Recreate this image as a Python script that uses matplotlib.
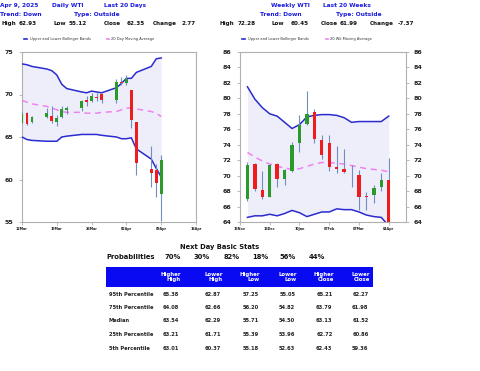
import matplotlib
matplotlib.use("Agg")
import matplotlib.pyplot as plt
import matplotlib.dates as mdates
import pandas as pd
import numpy as np

plt.rcParams['font.family'] = ['DejaVu Sans']

# ---------------- Daily data ----------------
daily_dates = ["2025-03-12", "2025-03-13", "2025-03-14", "2025-03-17", "2025-03-18", "2025-03-19",
               "2025-03-20", "2025-03-21", "2025-03-24", "2025-03-25", "2025-03-26", "2025-03-27",
               "2025-03-28", "2025-03-31", "2025-04-01", "2025-04-02", "2025-04-03", "2025-04-04",
               "2025-04-07", "2025-04-08", "2025-04-09"]
daily_open = [66.7, 67.8, 66.8, 67.3, 67.5, 66.8, 67.4, 68.2, 68.4, 69.4, 69.2, 69.65,
              70.0, 69.4, 71.5, 71.3, 70.5, 66.8, 61.2, 61.1, 58.3]
daily_high = [67.9, 68.0, 67.5, 68.4, 68.7, 67.6, 68.6, 68.7, 69.4, 69.8, 70.2, 70.2,
              70.2, 71.8, 72.1, 72.3, 70.5, 66.8, 63.9, 61.8, 62.93]
daily_low = [66.6, 66.4, 66.7, 67.2, 66.7, 66.3, 67.2, 67.7, 68.1, 68.7, 69.1, 69.2,
             69.0, 69.0, 71.1, 71.1, 66.1, 60.5, 59.1, 58.0, 55.12]
daily_close = [67.7, 66.5, 67.3, 67.8, 66.9, 67.2, 68.3, 68.4, 69.2, 69.1, 69.8, 69.6,
               69.4, 71.5, 71.3, 71.8, 67.0, 62.0, 60.8, 59.6, 62.35]
daily_upper = [73.6, 73.5, 73.3, 73.0, 72.8, 72.3, 71.2, 70.7, 70.3, 70.2, 70.4, 70.3,
               70.2, 70.8, 71.3, 71.9, 71.9, 72.6, 73.3, 74.2, 74.3]
daily_mid = [69.3, 69.1, 68.9, 68.6, 68.4, 68.2, 68.0, 67.9, 67.9, 67.8, 67.8, 67.8,
             67.9, 68.0, 68.2, 68.4, 68.4, 68.3, 68.0, 67.8, 67.4]
daily_lower = [65.0, 64.7, 64.6, 64.5, 64.5, 64.5, 65.0, 65.1, 65.3, 65.3, 65.3, 65.3,
               65.2, 65.0, 64.8, 64.8, 64.9, 63.6, 62.4, 61.3, 60.3]

# ---------------- Weekly data ----------------
weekly_dates = ["2024-11-22", "2024-11-29", "2024-12-06", "2024-12-13", "2024-12-20", "2024-12-27",
                "2025-01-03", "2025-01-10", "2025-01-17", "2025-01-24", "2025-01-31", "2025-02-07",
                "2025-02-14", "2025-02-21", "2025-02-28", "2025-03-07", "2025-03-14", "2025-03-21",
                "2025-03-28", "2025-04-04"]
weekly_open = [67.0, 71.5, 68.1, 67.3, 71.5, 69.5, 70.6, 74.2, 76.7, 78.3, 74.6, 74.2,
               71.1, 70.8, 69.95, 70.1, 67.35, 67.5, 68.5, 69.4]
weekly_high = [71.7, 71.6, 70.6, 71.5, 71.6, 70.9, 74.4, 77.9, 80.9, 78.6, 75.3, 75.3,
               73.8, 73.4, 71.4, 70.7, 67.9, 68.8, 70.3, 72.28]
weekly_low = [66.7, 68.0, 67.0, 67.2, 68.5, 68.8, 70.5, 73.0, 76.6, 74.2, 72.1, 70.6,
              70.4, 70.4, 68.5, 65.5, 65.5, 66.4, 68.0, 60.45]
weekly_close = [71.4, 68.3, 67.3, 71.4, 69.6, 70.7, 74.0, 76.6, 78.0, 74.7, 72.7, 71.1,
                70.8, 70.5, 69.9, 67.3, 67.3, 68.4, 69.4, 61.99]
weekly_upper = [81.5, 79.9, 78.8, 78.0, 77.7, 76.9, 76.1, 76.6, 77.6, 77.8, 77.9, 77.9,
                77.8, 77.5, 76.9, 77.0, 77.0, 77.0, 77.0, 77.7]
weekly_mid = [73.0, 72.4, 71.9, 71.5, 71.2, 71.0, 70.8, 70.9, 71.2, 71.5, 71.7, 71.7,
              71.6, 71.5, 71.3, 71.1, 70.9, 70.8, 70.7, 70.5]
weekly_lower = [64.6, 64.8, 64.8, 65.0, 64.8, 65.1, 65.5, 65.2, 64.7, 65.0, 65.3, 65.3,
                65.7, 65.6, 65.6, 65.3, 64.9, 64.7, 64.6, 63.5]

# ---------------- Stats table ----------------
prob_values = ["70%", "30%", "82%", "18%", "56%", "44%"]
col_headers = ["Higher\nHigh", "Lower\nHigh", "Higher\nLow", "Lower\nLow", "Higher\nClose", "Lower\nClose"]
row_labels = ["95th Percentile", "75th Percentile", "Median", "25th Percentile", "5th Percentile"]
table_values = [
    ["65.38", "62.87", "57.25", "55.05", "65.21", "62.27"],
    ["64.08", "62.66", "56.20", "54.82", "63.79", "61.98"],
    ["63.54", "62.29", "55.71", "54.50", "63.13", "61.52"],
    ["63.21", "61.71", "55.39", "53.96", "62.72", "60.86"],
    ["63.01", "60.37", "55.18", "52.63", "62.43", "59.36"],
]

W, H = 480, 371
fig = plt.figure(figsize=(W / 100, H / 100), dpi=100)
fig.patch.set_facecolor("white")

def fx(x):
    return x / W

def fy(y):
    return 1 - y / H

BLUE_T = "#1a1adf"
BAND = "#2b2bcf"
MID = "#ee82ee"
FILL = "#eeeefb"
GREEN = "#2a9a2a"
RED = "#ee1c1c"
WICK = "#6f8fc0"
SPINE = "#b0b0b0"
YT = 4.6

def draw_chart(ax, dates, o, h, l, c, up, mid, lo, body_w):
    d = mdates.date2num(pd.to_datetime(dates))
    ax.fill_between(d, lo, up, color=FILL, lw=0, zorder=1)
    ax.plot(d, up, color=BAND, lw=1.1, zorder=3)
    ax.plot(d, lo, color=BAND, lw=1.1, zorder=3)
    ax.plot(d, mid, color=MID, lw=1.1, ls=(0, (4, 3)), zorder=3)
    ax.vlines(d, l, h, color=WICK, lw=0.8, zorder=4)
    o = np.array(o); c = np.array(c)
    cols = [GREEN if cc > oo else RED for oo, cc in zip(o, c)]
    bottoms = np.minimum(o, c)
    heights = np.maximum(np.abs(c - o), 0.06)
    ax.bar(d, heights, bottom=bottoms, width=body_w, color=cols, lw=0, zorder=5)
    for s in ax.spines.values():
        s.set_color(SPINE)
        s.set_linewidth(0.8)
    ax.tick_params(axis='both', colors=SPINE, length=2.5, width=0.6, labelcolor="#222222")
    ax.tick_params(axis='x', pad=1)

def style_labels(ax):
    ax.xaxis.set_major_formatter(mdates.DateFormatter('%d%b'))
    for t in ax.get_xticklabels():
        t.set_fontsize(2.4); t.set_fontweight('bold')
    for t in ax.get_yticklabels(which='both'):
        t.set_fontsize(YT); t.set_fontweight('bold')
    ax.tick_params(axis='y', labelsize=YT)

# Daily axes
axd = fig.add_axes([fx(22), fy(222), fx(174), (222 - 52) / H])
draw_chart(axd, daily_dates, daily_open, daily_high, daily_low, daily_close,
           daily_upper, daily_mid, daily_lower, 0.55)
axd.set_ylim(55, 75)
axd.set_yticks([55, 60, 65, 70, 75])
xt = pd.to_datetime(["2025-03-12", "2025-03-19", "2025-03-26", "2025-04-02", "2025-04-09", "2025-04-16"])
axd.set_xticks(mdates.date2num(xt))
axd.set_xlim(mdates.date2num(xt[0]), mdates.date2num(xt[-1]))
style_labels(axd)

# Weekly axes
axw = fig.add_axes([fx(240), fy(222), fx(405.7 - 240), (222 - 52) / H])
draw_chart(axw, weekly_dates, weekly_open, weekly_high, weekly_low, weekly_close,
           weekly_upper, weekly_mid, weekly_lower, 3.2)
axw.set_ylim(64, 86)
axw.set_yticks(range(64, 87, 2))
axw.tick_params(axis='y', left=True, right=True, labelleft=True, labelright=True)
xtw = pd.to_datetime(["2024-11-15", "2024-12-13", "2025-01-10", "2025-02-07", "2025-03-07", "2025-04-04"])
axw.set_xticks(mdates.date2num(xtw))
axw.set_xlim(mdates.date2num(xtw[0]), mdates.date2num(pd.Timestamp("2025-04-20")))
style_labels(axw)
for t in axw.yaxis.get_ticklabels(which='both'):
    t.set_fontweight('bold')
for tk in axw.yaxis.get_major_ticks():
    tk.label1.set_fontweight('bold'); tk.label2.set_fontweight('bold')
    tk.label1.set_fontsize(YT); tk.label2.set_fontsize(YT)
for tk in axd.yaxis.get_major_ticks():
    tk.label1.set_fontweight('bold'); tk.label1.set_fontsize(YT)

# Header texts
def T(x, y, s, size=4.2, color=BLUE_T, ha='left', weight='bold', **kw):
    fig.text(fx(x), fy(y), s, fontsize=size, color=color, ha=ha, va='center', fontweight=weight, **kw)

T(0.5, 5.7, "Apr 9, 2025")
T(52, 5.7, "Daily WTI")
T(104, 5.7, "Last 20 Days")
T(0.5, 14.3, "Trend: Down")
T(74, 14.3, "Type: Outside")
for x, s in [(1, "High"), (18.5, "62.93"), (53, "Low"), (69, "55.12"), (104, "Close"),
             (127, "62.35"), (153, "Change"), (182, "2.77")]:
    T(x, 23.3, s, size=4.05, color="#111111")

T(270.7, 5.7, "Weekly WTI")
T(323, 5.7, "Last 20 Weeks")
T(260, 14.3, "Trend: Down")
T(336, 14.3, "Type: Outside")
for x, s in [(220, "High"), (237.5, "72.28"), (271.7, "Low"), (290.7, "60.45"), (321, "Close"),
             (340, "61.99"), (370, "Change"), (398, "-7.37")]:
    T(x, 23.3, s, size=4.05, color="#111111")

# Legends
def legend(x0, label2, x2):
    fig.add_artist(plt.Line2D([fx(x0), fx(x0 + 3)], [fy(39.3), fy(39.3)], color=BAND, lw=1.2))
    T(x0 + 6, 39.3, "Upper and Lower Bollinger Bands", size=2.6, color="#333333", weight='normal')
    fig.add_artist(plt.Line2D([fx(x2), fx(x2 + 1.6)], [fy(39.3), fy(39.3)], color=MID, lw=1.2))
    T(x2 + 4, 39.3, label2, size=2.6, color="#333333", weight='normal')

legend(23.5, "20 Day Moving Average", 107)
legend(241.5, "20 Wk Moving Average", 326)

# Stats section
T(220, 247.3, "Next Day Basic Stats", size=4.9, color="#111111", ha='center')
T(106, 257.3, "Probabilities", size=4.9, color="#111111")
for x, s in zip([165, 194, 223.3, 252.7, 279.3, 308.3], prob_values):
    T(x, 257.3, s, size=4.9, color="#111111")

fig.add_artist(plt.Rectangle((fx(105.7), fy(286.7)), fx(373.3 - 105.7), (286.7 - 266.7) / H,
                             color="#0a0af2", lw=0, transform=fig.transFigure))
col_right = [180.7, 222.7, 260, 296.7, 334, 370]
for x, s in zip(col_right, col_headers):
    T(x, 276.7, s, size=3.9, color="white", ha='right', linespacing=1.05)
row_y = [294, 307.7, 321, 335, 348.7]
for y, lab, vals in zip(row_y, row_labels, table_values):
    T(108.7, y, lab, size=3.7, color="#222222")
    for x, v in zip(col_right, vals):
        T(x - 1.5, y, v, size=3.7, color="#222222", ha='right')

fig.savefig("out.png", dpi=100, facecolor="white")
